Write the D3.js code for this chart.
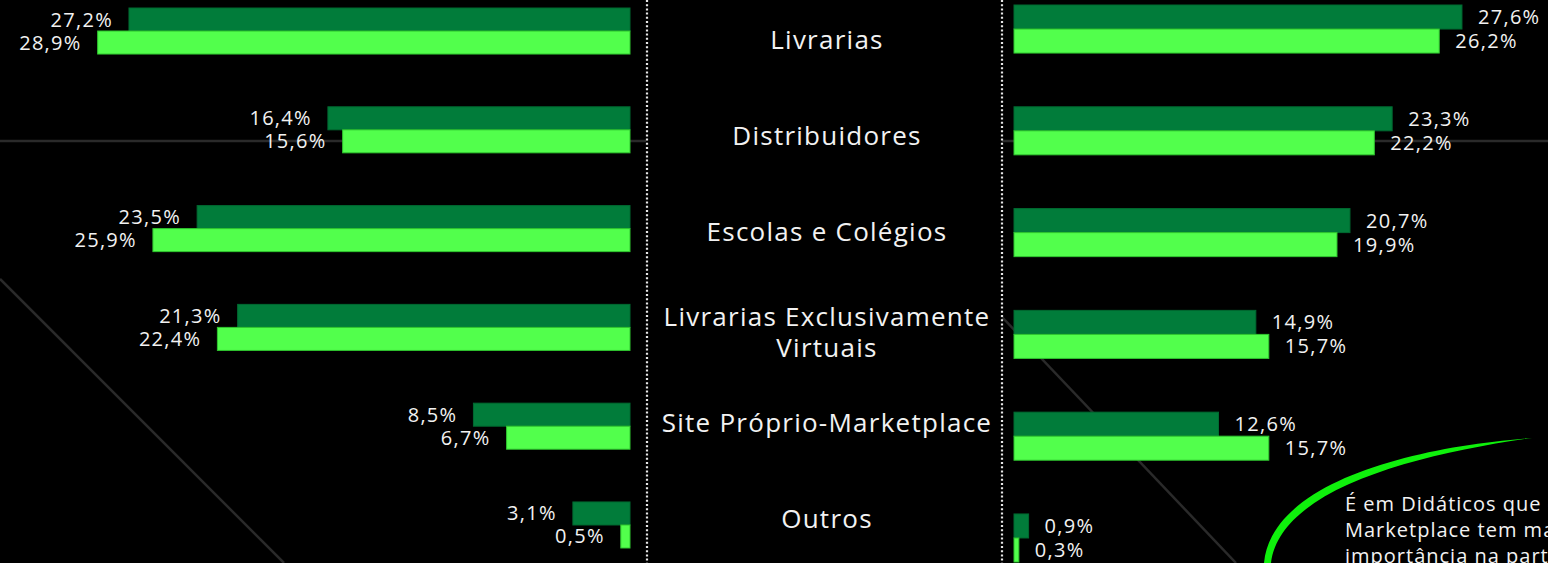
<!DOCTYPE html>
<html>
<head>
<meta charset="utf-8">
<script src="https://cdn.jsdelivr.net/npm/d3@7"></script>
<style>
  body { margin: 0; background: #000; }
  svg { display: block; font-family: "Open Sans", sans-serif; }
</style>
</head>
<body>
<div id="chart"></div>
<script>
// categorias (centro)
const categorias = ["Livrarias", "Distribuidores", "Escolas e Colégios",
  "Livrarias Exclusivamente Virtuais", "Site Próprio-Marketplace", "Outros"];
const series = ["escuro", "claro"];

// painel esquerdo
const esquerdaEscuro = [27.2, 16.4, 23.5, 21.3, 8.5, 3.1];
const esquerdaClaro = [28.9, 15.6, 25.9, 22.4, 6.7, 0.5];

// painel direito
const direitaEscuro = [27.6, 23.3, 20.7, 14.9, 12.6, 0.9];
const direitaClaro = [26.2, 22.2, 19.9, 15.7, 15.7, 0.3];

const notaLinhas = ["É em Didáticos que o Site", "Marketplace tem maior", "importância na participação"];

const width = 1548, height = 563;
const fmt = v => v.toFixed(1).replace(".", ",") + "%";

const cor = d3.scaleOrdinal().domain(series).range(["#017c3a", "#52ff4c"]);
const borda = d3.scaleOrdinal().domain(series).range(["#016a31", "#2fc62f"]);

const svg = d3.select("#chart").append("svg")
  .attr("width", width)
  .attr("height", height);

svg.append("rect").attr("width", width).attr("height", height).attr("fill", "#000");

// linhas decorativas do fundo
const fundo = svg.append("g").attr("stroke", "#2a2a2a").attr("stroke-width", 2.5).attr("fill", "none");
fundo.append("line").attr("x1", 0).attr("y1", 141).attr("x2", 646).attr("y2", 141);
fundo.append("line").attr("x1", 1002).attr("y1", 141).attr("x2", width).attr("y2", 141);
fundo.append("line").attr("x1", 0).attr("y1", 279).attr("x2", 284).attr("y2", 563);
fundo.append("line").attr("x1", 1002).attr("y1", 317).attr("x2", 1236).attr("y2", 563);

// linhas pontilhadas
[647, 1002].forEach(x => {
  svg.append("line")
    .attr("x1", x).attr("x2", x)
    .attr("y1", 0).attr("y2", height)
    .attr("stroke", "#e6e6e6")
    .attr("stroke-width", 2.2)
    .attr("stroke-dasharray", "2,2.2");
});

// escalas
const xEsq = d3.scaleLinear().domain([0, 30]).range([630, 630 - 30 * 18.42]);
const xDir = d3.scaleLinear().domain([0, 30]).range([1014, 1014 + 30 * 16.23]);

const yEsq = d3.scaleBand().domain(categorias).range([8, 548]).paddingInner(0.534).paddingOuter(0);
const yDir = d3.scaleBand().domain(categorias).range([5, 562]).paddingInner(0.528).paddingOuter(0);
const yRot = d3.scalePoint().domain(categorias).range([40, 519]);

function painel(esc, y, escuro, claro, lado) {
  const dados = categorias.map((c, i) => ({
    cat: c,
    values: [{ s: "escuro", v: escuro[i] }, { s: "claro", v: claro[i] }]
  }));
  const ySub = d3.scaleBand().domain(series).range([0, y.bandwidth()]);

  const grupos = svg.append("g").selectAll("g")
    .data(dados)
    .enter()
    .append("g")
    .attr("transform", d => `translate(0,${y(d.cat)})`);

  grupos.selectAll("rect")
    .data(d => d.values)
    .enter()
    .append("rect")
    .attr("x", d => lado === "esq" ? esc(d.v) : esc(0))
    .attr("y", d => ySub(d.s))
    .attr("width", d => Math.abs(esc(d.v) - esc(0)))
    .attr("height", ySub.bandwidth())
    .attr("fill", d => cor(d.s))
    .attr("stroke", d => borda(d.s))
    .attr("stroke-width", 1);

  grupos.selectAll("text")
    .data(d => d.values)
    .enter()
    .append("text")
    .attr("x", d => lado === "esq" ? esc(d.v) - 16 : esc(d.v) + 16)
    .attr("y", d => ySub(d.s) + ySub.bandwidth() / 2)
    .attr("dy", "0.35em")
    .attr("text-anchor", lado === "esq" ? "end" : "start")
    .attr("fill", "#f2f2f2")
    .style("font-size", "20px")
    .style("letter-spacing", "1.3px")
    .text(d => fmt(d.v));
}

painel(xEsq, yEsq, esquerdaEscuro, esquerdaClaro, "esq");
painel(xDir, yDir, direitaEscuro, direitaClaro, "dir");

// rótulos centrais
const rotulos = svg.append("g")
  .selectAll("text")
  .data(categorias)
  .enter()
  .append("text")
  .attr("x", 827)
  .attr("y", d => yRot(d))
  .attr("text-anchor", "middle")
  .attr("fill", "#f2f2f2")
  .style("font-size", "26px")
  .style("letter-spacing", "1.25px");

rotulos.each(function(d) {
  const t = d3.select(this);
  if (d === "Livrarias Exclusivamente Virtuais") {
    t.append("tspan").attr("x", 827).attr("dy", "-0.05em").text("Livrarias Exclusivamente");
    t.append("tspan").attr("x", 827).attr("dy", "1.2em").text("Virtuais");
  } else {
    t.attr("dy", "0.35em").text(d);
  }
});

// elipse verde (traço)
svg.append("path")
  .attr("d", "M1532,438 C1420,446 1272,480 1264,563 L1271,563 C1280,488 1420,454 1532,438 Z")
  .attr("fill", "#0ff00c");

// nota
svg.append("text")
  .attr("x", 1345)
  .attr("y", 511)
  .attr("fill", "#f2f2f2")
  .style("font-size", "20px")
  .style("letter-spacing", "1px")
  .selectAll("tspan")
  .data(notaLinhas)
  .enter()
  .append("tspan")
  .attr("x", 1345)
  .attr("dy", (d, i) => i === 0 ? 0 : 26)
  .text(d => d);
</script>
</body>
</html>
